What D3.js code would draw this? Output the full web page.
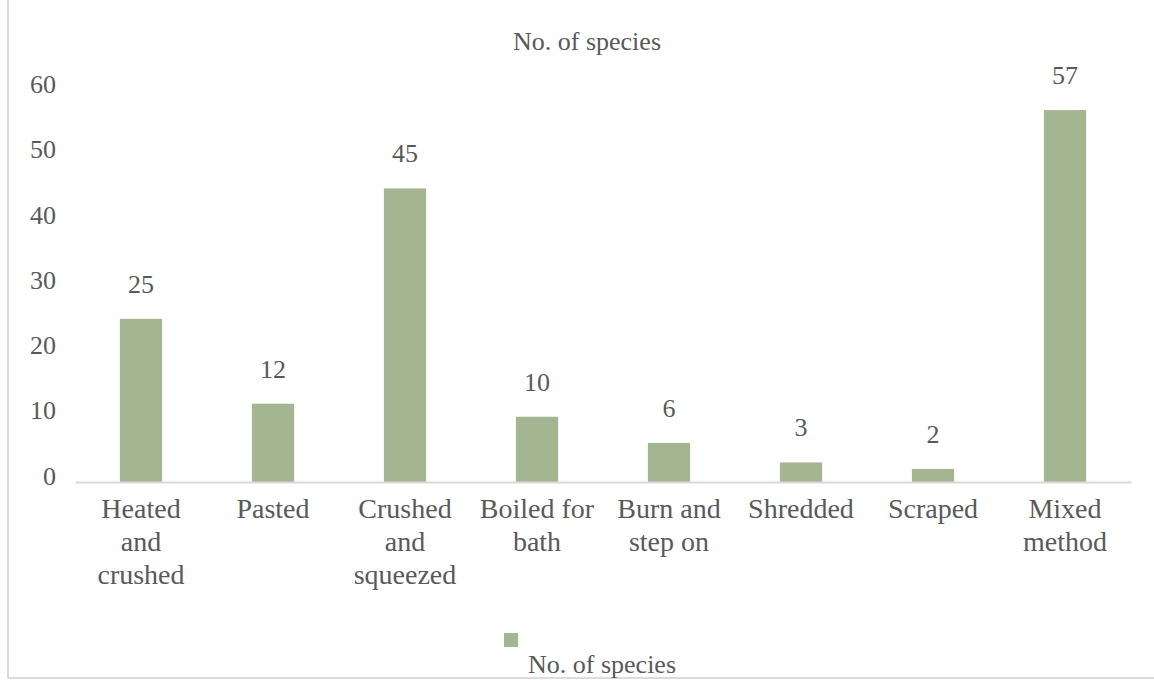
<!DOCTYPE html>
<html>
<head>
<meta charset="utf-8">
<script src="https://cdn.jsdelivr.net/npm/d3@7/dist/d3.min.js"></script>
<style>
  html, body { margin: 0; padding: 0; background: #ffffff; }
  svg { display: block; }
</style>
</head>
<body>
<svg id="chart" width="1154" height="680"></svg>
<script>
// Preparation methods and the number of species prepared each way
const categories = ["Heated and crushed", "Pasted", "Crushed and squeezed", "Boiled for bath",
                    "Burn and step on", "Shredded", "Scraped", "Mixed method"];
const speciesCounts = [25, 12, 45, 10, 6, 3, 2, 57];
const yTicks = [0, 10, 20, 30, 40, 50, 60];
const seriesName = "No. of species";

const barColor = "#a4b592";
const textColor = "#595959";
const fontSize = 26;
const catFontSize = 28;
const serif = "'Liberation Serif', 'Times New Roman', 'DejaVu Serif', serif";

const svg = d3.select("#chart");

// apply the chart's text style to a selection
function styleText(sel, size = fontSize) {
  return sel
    .attr("font-family", serif)
    .style("font-family", serif)
    .style("font-size", size + "px")
    .attr("fill", textColor)
    .style("fill", textColor);
}

// outer chart frame (only left and bottom edges fall inside the view)
svg.append("rect")
  .attr("x", 8).attr("y", -10)
  .attr("width", 1160).attr("height", 688)
  .attr("fill", "none")
  .attr("stroke", "#d0d0d0")
  .attr("stroke-width", 1.5);

const x = d3.scaleBand()
  .domain(categories)
  .range([75, 1131])
  .paddingInner(0.68)
  .paddingOuter(0.34);

const y = d3.scaleLinear()
  .domain([0, 60])
  .range([482, 90.5]);

// title
styleText(svg.append("text")
  .attr("x", 587).attr("y", 50)
  .attr("text-anchor", "middle")
  .text(seriesName));

// value axis labels (no gridlines)
const yAxis = d3.axisLeft(y).tickValues(yTicks).tickSize(0).tickPadding(0);
const gy = svg.append("g").attr("transform", "translate(56,0)").call(yAxis);
gy.attr("font-family", serif).attr("font-size", fontSize);
gy.select(".domain").remove();
styleText(gy.selectAll("text")).attr("dy", "0.08em");

// bars
svg.append("g").selectAll("rect")
  .data(categories)
  .join("rect")
  .attr("x", d => x(d))
  .attr("width", x.bandwidth())
  .attr("y", (d, i) => y(speciesCounts[i]))
  .attr("height", (d, i) => y(0) - y(speciesCounts[i]))
  .attr("fill", barColor);

// data labels
styleText(svg.append("g").selectAll("text")
  .data(categories)
  .join("text")
  .attr("x", d => x(d) + x.bandwidth() / 2)
  .attr("y", (d, i) => y(speciesCounts[i]) - 26)
  .attr("text-anchor", "middle")
  .text((d, i) => speciesCounts[i]));

// category axis
const xAxis = d3.axisBottom(x).tickSize(0).tickPadding(0);
const gx = svg.append("g").attr("transform", `translate(0,${y(0)})`).call(xAxis);
gx.select(".domain")
  .attr("stroke", "#d9d9d9")
  .attr("stroke-width", 2);
gx.selectAll("text").remove();

// wrapped category labels
function wrapWords(label, maxWidth) {
  const probe = styleText(svg.append("text"), catFontSize);
  const words = label.split(" ");
  const lines = [];
  let line = [];
  for (const w of words) {
    probe.text(line.concat(w).join(" "));
    if (line.length && probe.node().getComputedTextLength() > maxWidth) {
      lines.push(line.join(" "));
      line = [w];
    } else {
      line.push(w);
    }
  }
  if (line.length) lines.push(line.join(" "));
  probe.remove();
  return lines;
}

const catLabels = styleText(svg.append("g").selectAll("text")
  .data(categories)
  .join("text")
  .attr("x", d => x(d) + x.bandwidth() / 2)
  .attr("y", 518)
  .attr("text-anchor", "middle"), catFontSize);

catLabels.each(function (d) {
  const t = d3.select(this);
  const cx = x(d) + x.bandwidth() / 2;
  wrapWords(d, 120).forEach((ln, i) => {
    t.append("tspan").attr("x", cx).attr("y", 518 + i * 33).text(ln);
  });
});

// legend
svg.append("rect")
  .attr("x", 504).attr("y", 633)
  .attr("width", 14).attr("height", 14)
  .attr("fill", barColor);
styleText(svg.append("text")
  .attr("x", 528).attr("y", 673)
  .text(seriesName));
</script>
</body>
</html>
